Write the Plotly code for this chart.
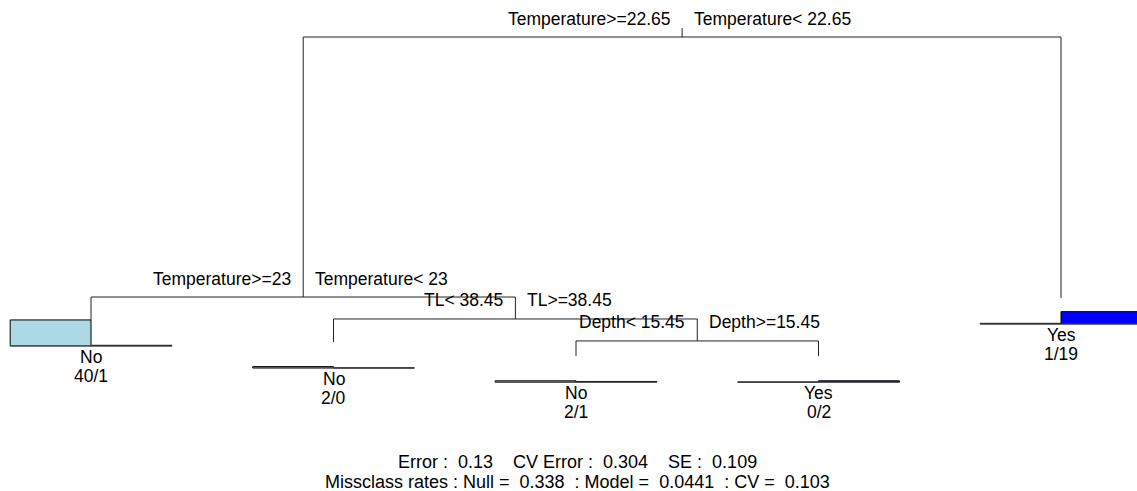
import plotly.graph_objects as go

# ---------------- data ----------------
node_ids = [1, 2, 3, 4, 5, 10, 11, 22, 23]
node_height = [1.0, 0.195, 0.192, 0.124, 0.127, 0.056, 0.059, 0.012, 0.012]

split_ids = [1, 2, 5, 11]
split_left = ["Temperature>=22.65", "Temperature>=23", "TL< 38.45", "Depth< 15.45"]
split_right = ["Temperature< 22.65", "Temperature< 23", "TL>=38.45", "Depth>=15.45"]

leaf_ids = [4, 10, 22, 23, 3]
leaf_class = ["No", "No", "No", "Yes", "Yes"]
count_no = [40, 2, 2, 0, 1]
count_yes = [1, 0, 1, 2, 19]

class_names = ["No", "Yes"]
class_colors = ["#ADD8E6", "#0000FF"]

footer_lines = [
    "Error :  0.13    CV Error :  0.304    SE :  0.109",
    "Missclass rates : Null =  0.338  : Model =  0.0441  : CV =  0.103",
]

# ---------------- layout constants ----------------
W, H = 1137, 491
FONT = "Liberation Sans, Arial, sans-serif"
FS = 17.5
bar_w = 1 / 3          # bar width in leaf-spacing units
bar_gap = 0.0805       # distance from leaf point to bar baseline (= tallest bar)
stub = 0.028           # root stub length
xr = [0.6247, 5.3134]
yr = [-0.4056, 1.1146]

height = dict(zip(node_ids, node_height))

# x positions: leaves equally spaced, internal nodes at midpoint of children
xpos = {}
for i, nid in enumerate(leaf_ids):
    xpos[nid] = i + 1.0


def get_x(n):
    if n in xpos:
        return xpos[n]
    xpos[n] = (get_x(2 * n) + get_x(2 * n + 1)) / 2
    return xpos[n]


get_x(1)

# tree branch segments
lx, ly = [], []
lx += [xpos[1], xpos[1], None]
ly += [height[1], height[1] + stub, None]
for n in split_ids:
    l, r = 2 * n, 2 * n + 1
    lx += [xpos[l], xpos[l], xpos[r], xpos[r], None]
    ly += [height[l], height[n], height[n], height[r], None]

fig = go.Figure()
fig.add_trace(go.Scatter(x=lx, y=ly, mode="lines",
                         line=dict(color="#222222", width=1), hoverinfo="skip"))

# bar baselines
bx, by = [], []
maxc = max(max(count_no), max(count_yes))
for nid in leaf_ids:
    b = height[nid] - bar_gap
    bx += [xpos[nid] - bar_w, xpos[nid] + bar_w, None]
    by += [b, b, None]
fig.add_trace(go.Scatter(x=bx, y=by, mode="lines",
                         line=dict(color="#555555", width=1), hoverinfo="skip"))

# class bars
for k, counts in enumerate([count_no, count_yes]):
    sign = -1 if k == 0 else 1
    fig.add_trace(go.Bar(
        x=[xpos[n] + sign * bar_w / 2 for n in leaf_ids],
        y=[c / maxc * bar_gap for c in counts],
        base=[height[n] - bar_gap for n in leaf_ids],
        width=bar_w,
        name=class_names[k],
        marker=dict(color=class_colors[k], line=dict(color="black", width=1)),
        hoverinfo="skip",
    ))

ann = []
# split labels
for n, tl, tr in zip(split_ids, split_left, split_right):
    for txt, anchor, sh in [(tl, "right", -10), (tr, "left", 10)]:
        ann.append(dict(x=xpos[n], y=height[n], text=txt, showarrow=False,
                        xanchor=anchor, yanchor="middle", xshift=sh, yshift=18.5,
                        font=dict(family=FONT, size=FS, color="black")))
# leaf labels
for nid, cls, cn, cy in zip(leaf_ids, leaf_class, count_no, count_yes):
    b = height[nid] - bar_gap
    ann.append(dict(x=xpos[nid], y=b, text=cls, showarrow=False,
                    xanchor="center", yanchor="middle", yshift=-11,
                    font=dict(family=FONT, size=FS, color="black")))
    ann.append(dict(x=xpos[nid], y=b, text=f"{cn}/{cy}", showarrow=False,
                    xanchor="center", yanchor="middle", yshift=-30,
                    font=dict(family=FONT, size=FS, color="black")))
# footer
for i, t in enumerate(footer_lines):
    ann.append(dict(x=577 / W, y=1 - [462, 482][i] / H,
                    xref="paper", yref="paper",
                    text=t.replace(" ", "\u00a0"),
                    showarrow=False, xanchor="center", yanchor="middle",
                    font=dict(family=FONT, size=18, color="black")))

fig.update_layout(
    width=W, height=H, margin=dict(l=0, r=0, t=0, b=0),
    paper_bgcolor="white", plot_bgcolor="white",
    showlegend=False, barmode="overlay", hovermode=False,
    xaxis=dict(range=xr, visible=False, fixedrange=True),
    yaxis=dict(range=yr, visible=False, fixedrange=True),
    annotations=ann,
)

fig.write_html("out.html", config={"displayModeBar": False})
